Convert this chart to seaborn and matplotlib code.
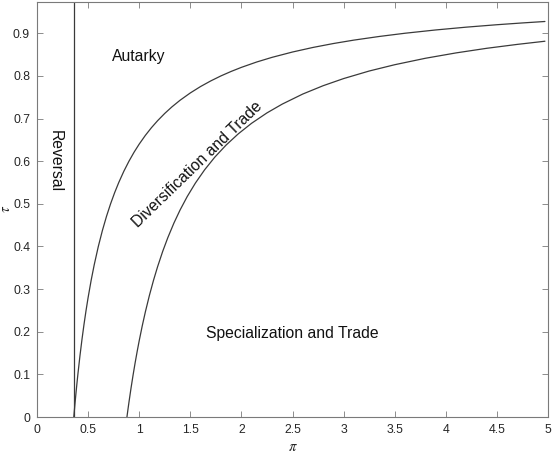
import matplotlib
matplotlib.use("Agg")
import matplotlib.pyplot as plt
import seaborn as sns
import pandas as pd

# ---- data ----
reversal_pi = 0.36

pi_upper = [0.36, 0.37, 0.38, 0.39, 0.40, 0.42, 0.44, 0.46, 0.48, 0.50, 0.53, 0.56,
            0.60, 0.64, 0.68, 0.72, 0.76, 0.80, 0.85, 0.90, 0.95, 1.00, 1.06, 1.12,
            1.18, 1.25, 1.32, 1.40, 1.50, 1.60, 1.70, 1.80, 1.90, 2.00, 2.15, 2.30,
            2.50, 2.70, 2.90, 3.10, 3.35, 3.60, 3.90, 4.20, 4.50, 4.75, 4.97]
tau_upper = [0.0000, 0.0270, 0.0526, 0.0769, 0.1000, 0.1429, 0.1818, 0.2174, 0.2500, 0.2800,
             0.3208, 0.3571, 0.4000, 0.4375, 0.4706, 0.5000, 0.5263, 0.5500, 0.5765, 0.6000,
             0.6211, 0.6400, 0.6604, 0.6786, 0.6949, 0.7120, 0.7273, 0.7429, 0.7600, 0.7750,
             0.7882, 0.8000, 0.8105, 0.8200, 0.8326, 0.8435, 0.8560, 0.8667, 0.8759, 0.8839,
             0.8925, 0.9000, 0.9077, 0.9143, 0.9200, 0.9242, 0.9276]

pi_lower = [0.88, 0.89, 0.90, 0.92, 0.94, 0.96, 0.98, 1.00, 1.03, 1.06, 1.10, 1.14,
            1.18, 1.23, 1.28, 1.34, 1.40, 1.47, 1.55, 1.64, 1.74, 1.85, 1.97, 2.10,
            2.25, 2.40, 2.60, 2.80, 3.00, 3.25, 3.50, 3.80, 4.10, 4.40, 4.70, 4.97]
tau_lower = [0.0000, 0.0178, 0.0350, 0.0677, 0.0982, 0.1268, 0.1536, 0.1788, 0.2140, 0.2462,
             0.2853, 0.3206, 0.3525, 0.3885, 0.4206, 0.4550, 0.4855, 0.5171, 0.5487, 0.5797,
             0.6095, 0.6377, 0.6642, 0.6889, 0.7132, 0.7339, 0.7574, 0.7770, 0.7937, 0.8114,
             0.8262, 0.8413, 0.8539, 0.8647, 0.8739, 0.8813]

x_ticks = [0, 0.5, 1, 1.5, 2, 2.5, 3, 3.5, 4, 4.5, 5]
x_ticklabels = ["0", "0.5", "1", "1.5", "2", "2.5", "3", "3.5", "4", "4.5", "5"]
y_ticks = [0, 0.1, 0.2, 0.3, 0.4, 0.5, 0.6, 0.7, 0.8, 0.9]
y_ticklabels = ["0", "0.1", "0.2", "0.3", "0.4", "0.5", "0.6", "0.7", "0.8", "0.9"]

region_labels = ["Autarky", "Reversal", "Diversification and Trade", "Specialization and Trade"]
region_pi = [1.0, 0.18, 1.57, 2.5]
region_tau = [0.845, 0.60, 0.592, 0.196]
region_rot = [0, -90, 44, 0]

# ---- style ----
sns.set_theme(style="white")
plt.rcParams["font.family"] = ["Liberation Sans", "DejaVu Sans"]
plt.rcParams["mathtext.fontset"] = "stix"

axis_col = "#262626"
line_col = "#3a3a3a"

fig = plt.figure(figsize=(5.53, 4.54), dpi=100)
ax = fig.add_axes([37 / 553, 1 - 417 / 454, (548 - 37) / 553, (417 - 1.7) / 454])

df_up = pd.DataFrame({"pi": pi_upper, "tau": tau_upper})
df_lo = pd.DataFrame({"pi": pi_lower, "tau": tau_lower})
sns.lineplot(data=df_up, x="pi", y="tau", ax=ax, color=line_col, lw=0.9,
             sort=False, estimator=None)
sns.lineplot(data=df_lo, x="pi", y="tau", ax=ax, color=line_col, lw=0.9,
             sort=False, estimator=None)
ax.axvline(reversal_pi, color=line_col, lw=0.9)

ax.set_xlim(0, 5)
ax.set_ylim(0, 0.974)
ax.set_xticks(x_ticks)
ax.set_xticklabels(x_ticklabels)
ax.set_yticks(y_ticks)
ax.set_yticklabels(y_ticklabels)

ax.tick_params(axis="both", which="both", direction="in", length=4.5, width=0.6,
               labelsize=8.8, top=True, right=True, bottom=True, left=True, pad=5)
ax.tick_params(axis="x", colors="#7a7a7a", labelcolor=axis_col)
ax.tick_params(axis="y", colors="#7a7a7a", labelcolor=axis_col)
for s in ax.spines.values():
    s.set_visible(True)
    s.set_color("#7a7a7a")
    s.set_linewidth(0.8)

ax.set_xlabel(r"$\pi$", fontsize=10.5, color=axis_col)
ax.xaxis.set_label_coords(0.5, -0.056)
ax.set_ylabel(r"$\tau$", fontsize=10.5, color=axis_col)
ax.yaxis.set_label_coords(-0.046, 0.5)

for lab, px, ty, rot in zip(region_labels, region_pi, region_tau, region_rot):
    ax.text(px, ty, lab, rotation=rot, ha="center", va="center",
            rotation_mode="anchor", fontsize=11.3, color="#111111")

fig.savefig("out.png", dpi=100)
